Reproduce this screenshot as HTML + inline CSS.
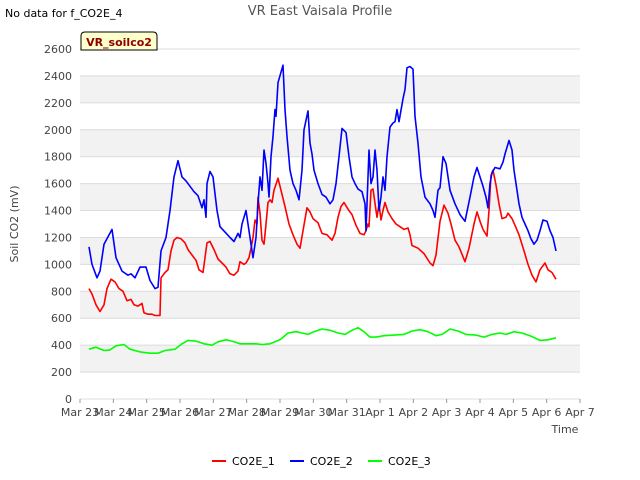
<!DOCTYPE html>
<html><head><meta charset="utf-8"><style>
body{margin:0;background:#fff;font-family:"Liberation Sans","DejaVu Sans",sans-serif}
svg{display:block}
</style></head><body>
<svg id="chart" width="640" height="480" font-family="DejaVu Sans, Liberation Sans, sans-serif">
<rect x="0" y="0" width="640" height="480" fill="#fff"/>
<g id="grid"></g>
<g id="axes"></g>
<g id="series"></g>
<text x="320" y="15" text-anchor="middle" font-size="13" fill="#555">VR East Vaisala Profile</text>
<text x="5" y="17" font-size="11" fill="#000">No data for f_CO2E_4</text>
<g>
<path d="M81,50 L81,36 Q81,32 85,32 L153,32 Q157,32 157,36 L157,50 Z" fill="#ffffcc" stroke="#000" stroke-width="1"/>
<text x="119" y="46" text-anchor="middle" font-size="11" font-weight="bold" fill="#8b0000">VR_soilco2</text>
</g>
<text transform="translate(18,224) rotate(-90)" text-anchor="middle" font-size="11" fill="#444">Soil CO2 (mV)</text>
<text x="565" y="433" text-anchor="middle" font-size="11" fill="#444">Time</text>
<g>
<g><line x1="212" y1="461" x2="226" y2="461" stroke="#ff0000" stroke-width="2"/><text x="232" y="465" font-size="11" fill="#000">CO2E_1</text></g>
<g><line x1="290" y1="461" x2="304" y2="461" stroke="#0000ff" stroke-width="2"/><text x="310" y="465" font-size="11" fill="#000">CO2E_2</text></g>
<g><line x1="368" y1="461" x2="382" y2="461" stroke="#00ff00" stroke-width="2"/><text x="388" y="465" font-size="11" fill="#000">CO2E_3</text></g>
</g>
</svg>
<script>
const xTickLabels=["Mar 23","Mar 24","Mar 25","Mar 26","Mar 27","Mar 28","Mar 29","Mar 30","Mar 31","Apr 1","Apr 2","Apr 3","Apr 4","Apr 5","Apr 6","Apr 7"];
const yTicks=[0,200,400,600,800,1000,1200,1400,1600,1800,2000,2200,2400,2600];
const seriesNames=["CO2E_1","CO2E_2","CO2E_3"];
const co2e1Days=[0.27,0.36,0.48,0.60,0.72,0.81,0.93,1.05,1.17,1.29,1.41,1.53,1.62,1.74,1.86,1.92,2.04,2.16,2.25,2.40,2.43,2.55,2.64,2.73,2.82,2.91,3.03,3.15,3.24,3.36,3.48,3.57,3.69,3.75,3.81,3.90,4.02,4.14,4.26,4.38,4.50,4.62,4.74,4.80,4.92,4.98,5.07,5.13,5.19,5.25,5.31,5.34,5.40,5.46,5.52,5.58,5.64,5.70,5.76,5.82,5.94,6.03,6.15,6.27,6.39,6.51,6.60,6.69,6.81,6.90,6.99,7.14,7.26,7.41,7.56,7.65,7.74,7.83,7.92,8.04,8.16,8.28,8.40,8.52,8.58,8.64,8.67,8.73,8.79,8.88,8.91,8.97,9.03,9.09,9.15,9.24,9.36,9.48,9.60,9.72,9.84,9.90,9.96,10.14,10.32,10.50,10.59,10.68,10.80,10.92,11.04,11.13,11.25,11.37,11.55,11.67,11.82,11.91,12.00,12.09,12.21,12.27,12.33,12.39,12.48,12.57,12.66,12.78,12.84,12.96,13.05,13.17,13.32,13.44,13.56,13.68,13.80,13.95,14.04,14.16,14.28];
const co2e1Values=[820,780,700,650,700,820,890,870,820,800,730,740,700,690,710,640,630,630,620,620,900,940,960,1100,1180,1200,1190,1160,1110,1070,1030,960,940,1050,1160,1170,1110,1040,1010,980,930,920,950,1020,1000,1010,1050,1120,1200,1330,1300,1500,1380,1180,1150,1300,1460,1480,1460,1550,1640,1550,1430,1300,1220,1150,1120,1250,1420,1390,1340,1310,1230,1220,1180,1230,1350,1430,1460,1410,1370,1290,1230,1220,1250,1300,1280,1550,1560,1400,1350,1450,1330,1400,1460,1390,1340,1300,1280,1260,1270,1220,1140,1120,1080,1010,990,1070,1320,1440,1380,1300,1180,1130,1020,1120,1300,1390,1320,1260,1210,1400,1660,1700,1590,1450,1340,1350,1380,1340,1290,1220,1100,1000,920,870,960,1010,960,940,890];
const co2e2Days=[0.27,0.36,0.51,0.60,0.72,0.96,1.08,1.26,1.44,1.53,1.65,1.80,1.98,2.10,2.25,2.34,2.43,2.58,2.70,2.82,2.94,3.06,3.18,3.30,3.42,3.54,3.66,3.72,3.78,3.81,3.90,3.99,4.11,4.20,4.35,4.50,4.62,4.74,4.80,4.86,4.92,4.98,5.07,5.13,5.19,5.28,5.34,5.40,5.46,5.52,5.58,5.64,5.67,5.73,5.79,5.85,5.88,5.94,6.09,6.15,6.21,6.30,6.39,6.48,6.57,6.66,6.72,6.84,6.90,6.96,7.02,7.14,7.26,7.38,7.50,7.59,7.68,7.77,7.86,7.98,8.07,8.16,8.25,8.34,8.46,8.55,8.58,8.67,8.73,8.79,8.85,8.91,8.97,9.03,9.09,9.15,9.21,9.30,9.39,9.45,9.51,9.57,9.69,9.75,9.81,9.90,9.99,10.05,10.14,10.23,10.35,10.50,10.59,10.65,10.74,10.80,10.89,10.98,11.10,11.25,11.40,11.55,11.70,11.82,11.91,12.00,12.09,12.18,12.24,12.30,12.36,12.45,12.60,12.69,12.75,12.87,12.96,13.02,13.08,13.17,13.26,13.35,13.44,13.53,13.62,13.71,13.80,13.89,14.01,14.10,14.19,14.28];
const co2e2Values=[1130,1000,900,950,1150,1260,1050,950,920,930,900,980,980,880,820,830,1100,1200,1400,1650,1770,1650,1620,1580,1540,1510,1420,1480,1350,1600,1690,1650,1400,1280,1240,1200,1170,1230,1200,1300,1350,1400,1250,1150,1050,1200,1450,1650,1550,1850,1750,1600,1500,1800,1950,2150,2100,2350,2480,2150,1950,1700,1600,1550,1480,1700,2000,2140,1900,1820,1700,1600,1520,1500,1450,1480,1600,1800,2010,1980,1800,1650,1600,1560,1540,1450,1250,1850,1600,1650,1850,1700,1400,1500,1650,1550,1800,2020,2050,2060,2150,2060,2230,2300,2460,2470,2450,2100,1900,1650,1500,1450,1400,1350,1550,1570,1800,1750,1550,1450,1370,1320,1500,1650,1720,1650,1580,1500,1420,1600,1680,1720,1710,1760,1820,1920,1850,1700,1600,1450,1350,1300,1250,1190,1150,1180,1250,1330,1320,1250,1200,1100];
const co2e3Days=[0.27,0.48,0.72,0.90,1.08,1.32,1.50,1.80,2.10,2.34,2.55,2.85,3.06,3.24,3.48,3.72,3.96,4.14,4.38,4.56,4.80,5.04,5.28,5.46,5.70,6.00,6.24,6.48,6.66,6.84,7.02,7.26,7.50,7.74,7.95,8.16,8.34,8.52,8.70,8.88,9.12,9.42,9.72,9.96,10.20,10.44,10.68,10.86,11.10,11.34,11.58,11.88,12.12,12.36,12.60,12.78,13.02,13.26,13.50,13.80,14.04,14.28];
const co2e3Values=[370,385,360,365,395,405,370,350,340,340,360,370,410,435,430,410,400,425,440,430,410,410,410,405,410,440,490,500,490,480,500,520,510,490,480,510,530,500,460,460,470,475,480,505,515,500,470,480,520,505,480,475,460,480,490,480,500,490,470,435,440,455];

const X0=80,X1=580,Y0=399,Y1=49,DMAX=15,VMAX=2600;
const xs=d=>X0+(X1-X0)*d/DMAX;
const ys=v=>Y0-(Y0-Y1)*v/VMAX;
const NS="http://www.w3.org/2000/svg";
const grid=document.getElementById('grid'),axes=document.getElementById('axes'),ser=document.getElementById('series');
function mk(tag,attrs,parent){const e=document.createElementNS(NS,tag);for(const k in attrs)e.setAttribute(k,attrs[k]);parent.appendChild(e);return e;}
for(let i=0;i<yTicks.length-1;i++){
  if(i%2===1){const b=mk('rect',{x:X0,y:ys(yTicks[i+1]),width:X1-X0,height:ys(yTicks[i])-ys(yTicks[i+1]),fill:'#f2f2f2'},grid);
  
  }
}
yTicks.forEach(v=>{
  const l=mk('line',{x1:X0,x2:X1,y1:ys(v),y2:ys(v),stroke:'#dcdcdc','stroke-width':1},grid);
  
  
  const t=mk('text',{x:X0-8,y:ys(v)+4,'text-anchor':'end','font-size':11,fill:'#444'},axes);
  t.textContent=v;
  
  
});
xTickLabels.forEach((lab,i)=>{
  const tk=mk('line',{x1:xs(i),x2:xs(i),y1:Y0,y2:Y0+4,stroke:'#999'},axes);
  
  
  const t=mk('text',{x:xs(i),y:Y0+17,'text-anchor':'middle','font-size':11,fill:'#444'},axes);
  t.textContent=lab;
  
  
});
const sets=[[co2e1Days,co2e1Values,'#ff0000','series-co2e-1'],[co2e2Days,co2e2Values,'#0000ff','series-co2e-2'],[co2e3Days,co2e3Values,'#00ff00','series-co2e-3']];
sets.forEach(([d,v,c,n])=>{
  const pts=d.map((x,i)=>xs(x).toFixed(1)+','+ys(v[i]).toFixed(1)).join(' ');
  const p=mk('polyline',{points:pts,fill:'none',stroke:c,'stroke-width':1.6,'stroke-linejoin':'round'},ser);
  
  
});
</script>
</body></html>
